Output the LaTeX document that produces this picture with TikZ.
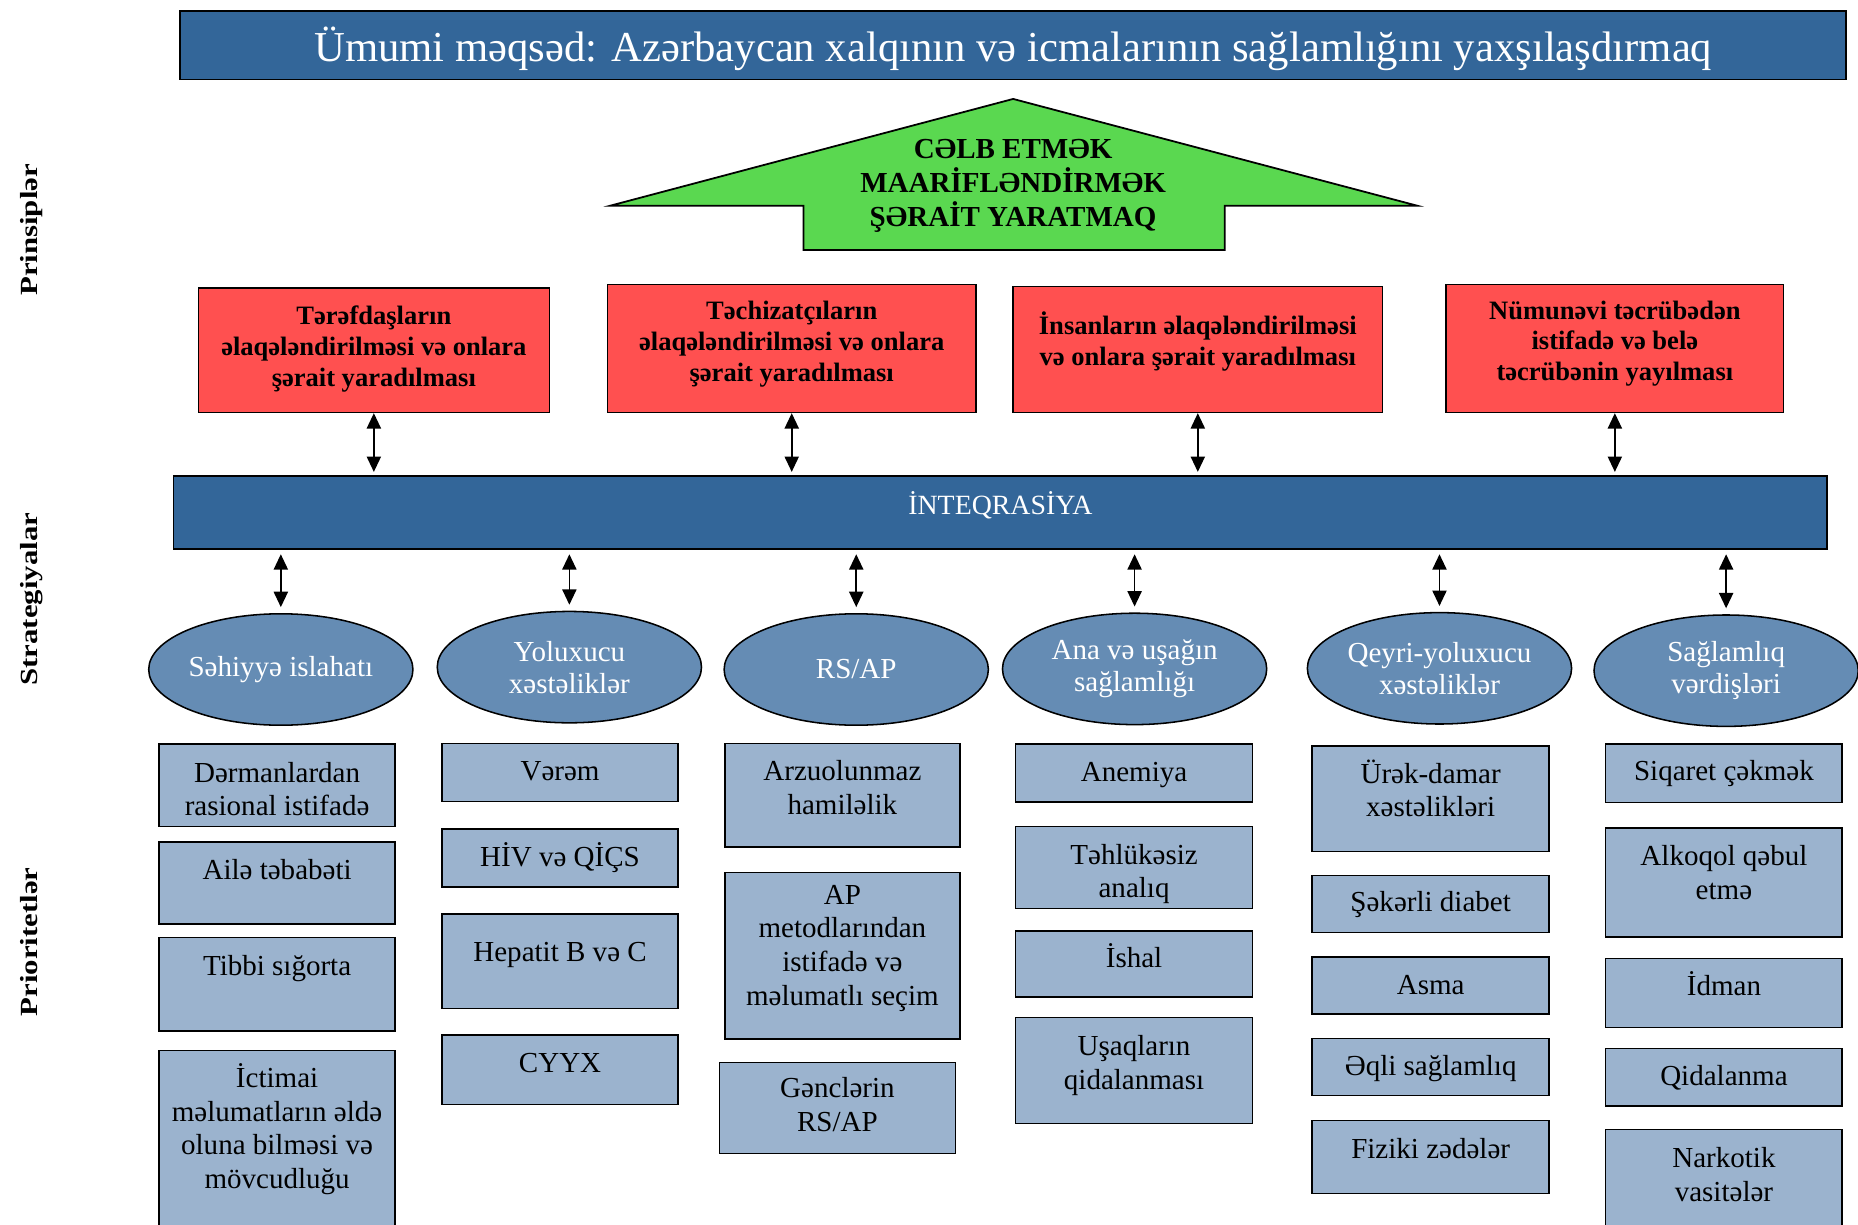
\documentclass[tikz,border=0pt]{standalone}
\usepackage{fontspec}
\setmainfont{Liberation Serif}
\newfontfamily\labfont[FakeStretch=1.25]{Liberation Serif}
\usetikzlibrary{shapes.geometric,arrows.meta}
\definecolor{banblue}{RGB}{51,102,153}
\definecolor{ellblue}{RGB}{101,140,180}
\definecolor{prio}{RGB}{155,179,206}
\definecolor{redbox}{RGB}{255,80,80}
\definecolor{greenarr}{RGB}{90,216,80}
\newcommand{\boxtext}[4]{\parbox[c][#2pt][t]{#1pt}{\centering\rule{0pt}{#3pt}#4}}
\tikzset{
  pbox/.style={draw=black, line width=1.3pt, fill=prio, inner sep=0pt, anchor=north west,
    font=\fontsize{24.5}{28.5}\selectfont},
  rbox/.style={draw=black, line width=1.3pt, fill=redbox, inner sep=0pt, anchor=north west,
    font=\bfseries\fontsize{22.4}{26}\selectfont},
  ell/.style={ellipse, draw=black, line width=1.3pt, fill=ellblue, text=white, inner sep=0pt,
    minimum width=223pt, minimum height=94pt, align=center,
    font=\fontsize{24.5}{27}\selectfont},
  banner/.style={draw=black, line width=1.5pt, fill=banblue, text=white, inner xsep=0pt, inner ysep=0pt},
  sidelab/.style={rotate=90, inner sep=0pt, anchor=base, font=\labfont\bfseries\fontsize{20.8}{22}\selectfont},
  dbl/.style={{Triangle[length=13pt,width=12pt]}-{Triangle[length=13pt,width=12pt]}, line width=1.3pt},
}
\begin{document}
\begin{tikzpicture}[x=1pt,y=-1pt]
\useasboundingbox (0,0) rectangle (1568,1033);
\fill[white] (0,0) rectangle (1568,1033);
\clip (0,0) rectangle (1568,1033);

% goal banner
\node[banner, minimum width=1406pt, text height=43pt, text depth=15pt,
  font=\fontsize{36}{40}\selectfont] (goal) at (855,38)
  {Ümumi məqsəd: Azərbaycan xalqının və icmalarının sağlamlığını yaxşılaşdırmaq};

% principles arrow
\fill[greenarr, draw=black, line width=1.5pt] (515,173.6) -- (855,83.5) -- (1196,173.6)
  -- (1033.6,173.6) -- (1033.6,211) -- (678,211) -- (678,173.6) -- cycle;
\node[anchor=north, inner sep=0pt, font=\bfseries\fontsize{24.5}{28.8}\selectfont] (princ) at (855,100)
  {\parbox[t]{340pt}{\centering\rule{0pt}{33.6pt}CƏLB ETMƏK\\MAARİFLƏNDİRMƏK\\ŞƏRAİT YARATMAQ}};

% red boxes
\node[rbox] (r1) at (166.7,242.5) {\boxtext{296.3}{104.9}{31}{Tərəfdaşların\\əlaqələndirilməsi və onlara\\şərait yaradılması}};
\node[rbox] (r2) at (512,239.4) {\boxtext{311}{108}{30}{Təchizatçıların\\əlaqələndirilməsi və onlara\\şərait yaradılması}};
\node[rbox] (r3) at (854.4,241) {\boxtext{311.6}{106.4}{41}{İnsanların əlaqələndirilməsi\\və onlara şərait yaradılması}};
\node[rbox] (r4) at (1219.7,239.4) {\boxtext{284.9}{108}{29.2}{Nümunəvi təcrübədən\\istifadə və belə\\təcrübənin yayılması}};

% integration bar
\node[banner, minimum width=1395.5pt, text height=32.6pt, text depth=28.4pt,
  font=\fontsize{23.5}{26}\selectfont] (bar) at (844.25,432.5) {İNTEQRASİYA};

\foreach \r in {r1,r2,r3,r4}
  \draw[dbl, shorten >=3pt] (\r.south) -- (\r.south |- bar.north);

% strategies
\node[ell] (e1) at (237,565) {Səhiyyə islahatı};
\node[ell] (e2) at (480.5,563) {Yoluxucu\\xəstəliklər};
\node[ell] (e3) at (722.6,565) {RS/AP};
\node[ell] (e4) at (957.5,564.5) {Ana və uşağın\\sağlamlığı};
\node[ell] (e5) at (1214.8,564) {Qeyri-yoluxucu\\xəstəliklər};
\node[ell] (e6) at (1456.7,566) {Sağlamlıq\\vərdişləri};

\foreach \e in {e1,e2,e3,e4,e5,e6}
  \draw[dbl, shorten <=4pt, shorten >=5pt] (\e.north |- bar.south) -- (\e.north);

% priorities column 1
\node[pbox] (c1a) at (133.6,627.3) {\boxtext{199.2}{69.5}{32}{Dərmanlardan\\rasional istifadə}};
\node[pbox] (c1b) at (133.6,709.7) {\boxtext{199.2}{69.5}{31.5}{Ailə təbabəti}};
\node[pbox] (c1c) at (133.6,790.5) {\boxtext{199.2}{78.7}{32}{Tibbi sığorta}};
\node[pbox] (c1d) at (133.6,886) {\boxtext{199.2}{170}{31}{İctimai\\məlumatların əldə\\oluna bilməsi və\\mövcudluğu}};
% column 2
\node[pbox] (c2a) at (372.4,626.7) {\boxtext{199.2}{49}{31.5}{Vərəm}};
\node[pbox] (c2b) at (372.4,699) {\boxtext{199.2}{48.7}{32}{HİV və QİÇS}};
\node[pbox] (c2c) at (372.4,770.7) {\boxtext{199.2}{79.9}{40.3}{Hepatit B və C}};
\node[pbox] (c2d) at (372.4,872.6) {\boxtext{199.2}{59}{31.8}{CYYX}};
% column 3
\node[pbox] (c3a) at (611,626.7) {\boxtext{198.5}{87.3}{31.5}{Arzuolunmaz\\hamiləlik}};
\node[pbox] (c3b) at (611,735.6) {\boxtext{198.5}{140.6}{26.7}{AP\\metodlarından\\istifadə və\\məlumatlı seçim}};
\node[pbox] (c3c) at (606.6,896) {\boxtext{199}{76.7}{29.5}{Gənclərin\\RS/AP}};
% column 4
\node[pbox] (c4a) at (856.4,627.3) {\boxtext{200}{48.7}{31.5}{Anemiya}};
\node[pbox] (c4b) at (856.4,696.8) {\boxtext{200}{69.2}{31.7}{Təhlükəsiz\\analıq}};
\node[pbox] (c4c) at (856.4,784.8) {\boxtext{200}{55.7}{31}{İshal}};
\node[pbox] (c4d) at (856.4,858.2) {\boxtext{200}{89.2}{32}{Uşaqların\\qidalanması}};
% column 5
\node[pbox] (c5a) at (1106.7,628.7) {\boxtext{200}{89.2}{31.5}{Ürək-damar\\xəstəlikləri}};
\node[pbox] (c5b) at (1106.7,738.1) {\boxtext{200}{48.1}{30.4}{Şəkərli diabet}};
\node[pbox] (c5c) at (1106.7,806.8) {\boxtext{200}{48.3}{31.4}{Asma}};
\node[pbox] (c5d) at (1106.7,875.7) {\boxtext{200}{48.3}{31.5}{Əqli sağlamlıq}};
\node[pbox] (c5e) at (1106.7,945.1) {\boxtext{200}{61.4}{31.5}{Fiziki zədələr}};
% column 6
\node[pbox] (c6a) at (1354.4,627.3) {\boxtext{199.6}{49.2}{31}{Siqaret çəkmək}};
\node[pbox] (c6b) at (1354.4,698.2) {\boxtext{199.6}{91.7}{31.8}{Alkoqol qəbul\\etmə}};
\node[pbox] (c6c) at (1354.4,808.2) {\boxtext{199.6}{58.2}{31.5}{İdman}};
\node[pbox] (c6d) at (1354.4,884.1) {\boxtext{199.6}{48.4}{31.5}{Qidalanma}};
\node[pbox] (c6e) at (1354.4,952.7) {\boxtext{199.6}{120}{31.8}{Narkotik\\vasitələr}};

% side labels
\node[sidelab] (lp) at (31.5,194) {Prinsiplər};
\node[sidelab] (ls) at (31.5,505.6) {Strategiyalar};
\node[sidelab] (lq) at (31.5,795) {Prioritetlər};
\end{tikzpicture}
\end{document}
